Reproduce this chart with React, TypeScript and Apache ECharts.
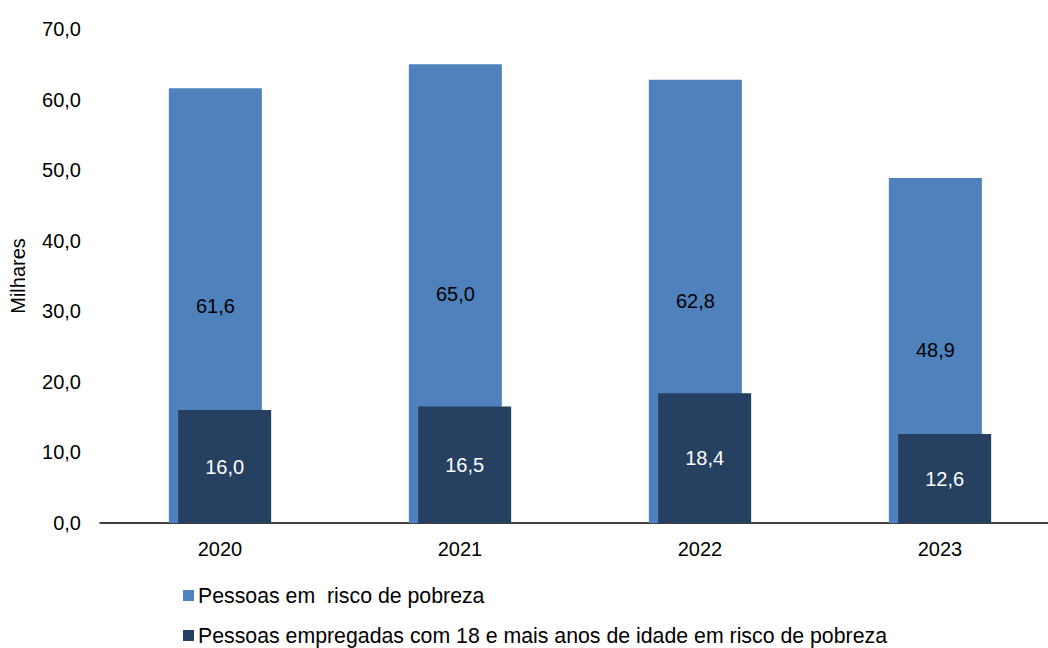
import React, { useEffect, useRef } from "react";
import * as echarts from "echarts";

const categories = ["2020", "2021", "2022", "2023"];
const riscoPobreza = [61.6, 65.0, 62.8, 48.9];
const empregadosRisco = [16.0, 16.5, 18.4, 12.6];
const seriesNames = [
  "Pessoas em  risco de pobreza",
  "Pessoas empregadas com 18 e mais anos de idade em risco de pobreza",
];
const colors = ["#4F81BD", "#254061"];

const fmt = (v: number) => v.toFixed(1).replace(".", ",");
const FONT = "Liberation Sans, Arial, sans-serif";

export default function App() {
  const ref = useRef<HTMLDivElement>(null);
  useEffect(() => {
    if (!ref.current) return;
    const chart = echarts.init(ref.current, undefined, { renderer: "svg" });
    const legendCommon = {
      orient: "horizontal",
      left: 183,
      padding: 0,
      itemWidth: 11,
      itemHeight: 11,
      itemGap: 5,
      icon: "rect",
      textStyle: { fontSize: 21.3, color: "#000", fontFamily: FONT, padding: [0, 0, 0, -1] },
    };
    chart.setOption({
      animation: false,
      color: colors,
      textStyle: { fontFamily: FONT },
      grid: {
        left: 100,
        top: 29,
        width: 960,
        height: 494,
        containLabel: false,
        outerBoundsMode: "none",
      },
      legend: [
        { ...legendCommon, top: 585, data: [seriesNames[0]] },
        { ...legendCommon, top: 625, data: [seriesNames[1]] },
      ],
      xAxis: {
        type: "category",
        data: categories,
        axisLine: { lineStyle: { color: "#000", width: 1.5 } },
        axisTick: { show: false },
        axisLabel: { color: "#000", fontSize: 20, margin: 16, fontFamily: FONT },
      },
      yAxis: {
        type: "value",
        min: 0,
        max: 70,
        interval: 10,
        name: "Milhares",
        nameLocation: "middle",
        nameGap: 72,
        nameTextStyle: { color: "#000", fontSize: 20, fontFamily: FONT },
        axisLine: { show: false },
        axisTick: { show: false },
        splitLine: { show: false },
        axisLabel: {
          color: "#000",
          fontSize: 20,
          margin: 19,
          fontFamily: FONT,
          formatter: (v: number) => fmt(v),
        },
      },
      series: [
        {
          name: seriesNames[0],
          type: "bar",
          data: riscoPobreza,
          barWidth: 93,
          barGap: "-90%",
          itemStyle: { color: colors[0] },
          label: {
            show: true,
            position: "inside",
            color: "#000",
            fontSize: 20,
            fontFamily: FONT,
            formatter: (p: any) => fmt(p.value),
          },
        },
        {
          name: seriesNames[1],
          type: "bar",
          data: empregadosRisco,
          barWidth: 93,
          itemStyle: { color: colors[1] },
          label: {
            show: true,
            position: "inside",
            color: "#fff",
            fontSize: 20,
            fontFamily: FONT,
            formatter: (p: any) => fmt(p.value),
          },
        },
      ],
    });
    return () => chart.dispose();
  }, []);
  return (
    <div style={{ position: "absolute", left: 0, top: 0, width: 1048, height: 648, overflow: "hidden" }}>
      <div ref={ref} style={{ width: 1080, height: 648 }} />
    </div>
  );
}
